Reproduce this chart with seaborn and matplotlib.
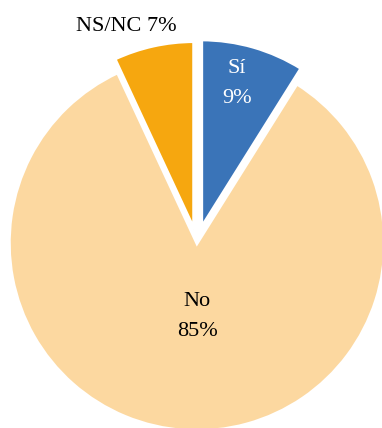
import matplotlib
matplotlib.use("Agg")
import matplotlib.pyplot as plt
import seaborn as sns

# Datos
categorias = ["Sí", "No", "NS/NC"]
porcentajes = [9, 85, 7]
colores = ["#3a74b8", "#fcd8a0", "#f6a70f"]

sns.set_style("white")
plt.rcParams["font.family"] = ["Liberation Serif", "DejaVu Serif"]

fig = plt.figure(figsize=(3.82, 4.28), dpi=100)
ax = fig.add_axes([0, 0, 1, 1])

# explode va en unidades de datos (píxeles aquí)
ax.pie(porcentajes, colors=colores, startangle=90, counterclock=False,
       radius=188, center=(197, 185), explode=[16, 0, 14],
       wedgeprops=dict(edgecolor="white", linewidth=2.5))

ax.set_xlim(0, 382)
ax.set_ylim(0, 428)
ax.set_aspect("equal")
ax.axis("off")

# Etiquetas
fs = 16
ax.text(237, 428 - 68, categorias[0], color="white", fontsize=fs, ha="center", va="center")
ax.text(237, 428 - 98, f"{porcentajes[0]}%", color="white", fontsize=fs, ha="center", va="center")
ax.text(197, 428 - 302, categorias[1], color="black", fontsize=fs, ha="center", va="center")
ax.text(197, 428 - 331, f"{porcentajes[1]}%", color="black", fontsize=fs, ha="center", va="center")
ax.text(126, 428 - 26, f"{categorias[2]} {porcentajes[2]}%", color="black", fontsize=fs,
        ha="center", va="center")

fig.savefig("out.png", dpi=100)
